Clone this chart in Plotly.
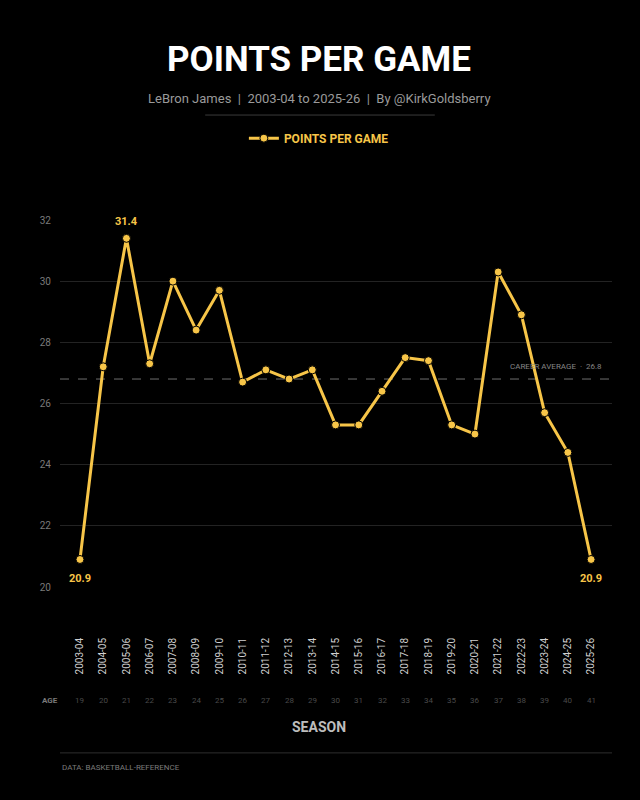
import plotly.graph_objects as go

seasons = ['2003-04', '2004-05', '2005-06', '2006-07', '2007-08', '2008-09', '2009-10',
           '2010-11', '2011-12', '2012-13', '2013-14', '2014-15', '2015-16', '2016-17',
           '2017-18', '2018-19', '2019-20', '2020-21', '2021-22', '2022-23', '2023-24',
           '2024-25', '2025-26']
ppg = [20.9, 27.2, 31.4, 27.3, 30.0, 28.4, 29.7, 26.7, 27.1, 26.8, 27.1, 25.3, 25.3, 26.4,
       27.5, 27.4, 25.3, 25.0, 30.3, 28.9, 25.7, 24.4, 20.9]
ages = list(range(19, 42))
career_avg = 26.8
labelled = {0: 'bottom', 2: 'top', 22: 'bottom'}

GOLD = '#F7C548'
FONT = 'Roboto, sans-serif'
idx = list(range(len(seasons)))


def note(text, x, y, size, color, xref='paper', **kw):
    fig.add_annotation(x=x, y=y, xref=xref, yref='paper', text=text, showarrow=False,
                       xanchor=kw.pop('xanchor', 'center'), yanchor='middle',
                       font=dict(family=FONT, size=size, color=color), **kw)


fig = go.Figure()

# career average line
fig.add_trace(go.Scatter(x=[-0.86, 22.9], y=[career_avg, career_avg], mode='lines',
                         line=dict(color='#6e6e6e', width=1, dash='dash'),
                         hoverinfo='skip', showlegend=False))

# main series
fig.add_trace(go.Scatter(x=idx, y=ppg, mode='lines+markers', name='<b>POINTS PER GAME</b>',
                         line=dict(color=GOLD, width=3),
                         marker=dict(size=8, color=GOLD, line=dict(color='#000', width=1))))

# data labels
for i, pos in labelled.items():
    fig.add_annotation(x=i, y=ppg[i], text=f'<b>{ppg[i]:.1f}</b>', showarrow=False,
                       yanchor='middle', yshift=17 if pos == 'top' else -19,
                       font=dict(family=FONT, size=11, color=GOLD))

fig.add_annotation(x=22.55, y=career_avg, text=f'CAREER AVERAGE  ·  {career_avg}',
                   showarrow=False, xanchor='right', yanchor='middle', yshift=13,
                   font=dict(family=FONT, size=8, color='#858585'))

# age row
for i, a in zip(idx, ages):
    note(str(a), i, -0.308, 8, '#4a4a4a', xref='x')
note('<b>AGE</b>', -0.018, -0.308, 8, '#7a7a7a')

note('<b>SEASON</b>', 0.47, -0.381, 14, '#bdbdbd')
note('DATA: BASKETBALL-REFERENCE', 0, -0.493, 8, '#7a7a7a', xanchor='left')

# header
note('<b>POINTS PER GAME</b>', 0.47, 1.436, 35, '#ffffff')
note('LeBron James  |  2003-04 to 2025-26  |  By @KirkGoldsberry', 0.47, 1.33, 13, '#9a9a9a')

fig.add_shape(type='line', xref='paper', yref='paper', x0=0.263, x1=0.679, y0=1.286, y1=1.286,
              line=dict(color='#3a3a3a', width=1))
fig.add_shape(type='line', xref='paper', yref='paper', x0=0, x1=1, y0=-0.452, y1=-0.452,
              line=dict(color='#2e2e2e', width=1))

fig.update_layout(
    width=640, height=800,
    paper_bgcolor='#000000', plot_bgcolor='#000000',
    margin=dict(l=60, r=28, t=220, b=213),
    showlegend=True,
    legend=dict(orientation='h', x=0.469, xanchor='center', y=1.223, yanchor='middle',
                font=dict(family=FONT, size=12, color=GOLD), bgcolor='rgba(0,0,0,0)'),
    xaxis=dict(range=[-0.86, 22.9], tickmode='array', tickvals=idx, ticktext=seasons,
               tickangle=-90, ticklabelstandoff=48, showgrid=False, zeroline=False,
               showline=False, ticks='',
               tickfont=dict(family=FONT, size=10, color='#d0d0d0')),
    yaxis=dict(range=[20, 32], dtick=2, showgrid=True, gridcolor='#232323', gridwidth=1,
               zeroline=False, showline=False, ticks='', ticklabelstandoff=8,
               tickfont=dict(family=FONT, size=10, color='#7a7a7a')),
    hovermode=False,
)

fig.write_html('out.html', config={'displayModeBar': False},
               post_script="document.body.style.margin='0';document.body.style.background='#000';")
